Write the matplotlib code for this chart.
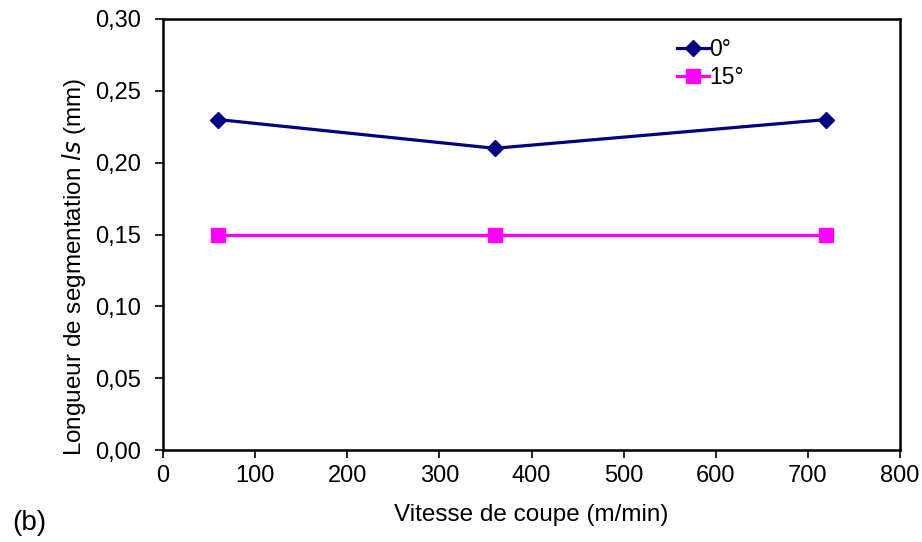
import matplotlib
matplotlib.use("Agg")
import matplotlib.pyplot as plt

vitesse = [60, 360, 720]
ls_0 = [0.23, 0.21, 0.23]
ls_15 = [0.15, 0.15, 0.15]
labels = ["0°", "15°"]

plt.rcParams['font.family'] = ['Liberation Sans', 'DejaVu Sans']

fig = plt.figure(figsize=(9.22, 5.42), dpi=100)
ax = fig.add_axes([163/922, 1-450/542, (900-163)/922, (450-19)/542])

ax.plot(vitesse, ls_0, color='#000080', marker='D', markersize=8, linewidth=2.3, label=labels[0])
ax.plot(vitesse, ls_15, color='#FF00FF', marker='s', markersize=10, linewidth=2.3, label=labels[1])

ax.set_xlim(0, 800)
ax.set_ylim(0, 0.30)
ax.set_xticks(range(0, 801, 100))
yt = [0, 0.05, 0.10, 0.15, 0.20, 0.25, 0.30]
ax.set_yticks(yt)
ax.set_yticklabels([f"{v:.2f}".replace('.', ',') for v in yt])
ax.tick_params(direction='out', length=6, width=1.2, labelsize=17, colors='black')
ax.tick_params(axis='y', pad=10)
ax.tick_params(axis='x', pad=5)
for s in ax.spines.values():
    s.set_linewidth(1.8)
    s.set_color('black')

ax.set_xlabel("Vitesse de coupe (m/min)", fontsize=17.5, labelpad=12)
ax.set_ylabel("Longueur de segmentation $\\it{ls}$ (mm)", fontsize=17.5)
ax.yaxis.set_label_coords((88-163)/737, (450-267)/431)

leg = ax.legend(loc='upper left', bbox_to_anchor=(0.685, 0.977), frameon=False, fontsize=16.5,
                handlelength=1.4, handletextpad=0.0, labelspacing=0.2, borderaxespad=0)

fig.text(12/922, 1-523/542, "(b)", fontsize=20, va='center', ha='left')

fig.savefig("out.png", dpi=100)
